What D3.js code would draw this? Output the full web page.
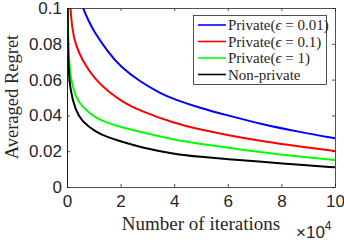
<!DOCTYPE html>
<html><head><meta charset="utf-8">
<script src="https://cdn.jsdelivr.net/npm/d3@7"></script>
<style>html,body{margin:0;padding:0;background:#fff;}svg{display:block;}</style>
</head><body>
<svg id="c" width="344" height="244"></svg>
<script>
// iterations (×10^4) and averaged regret values
const blueT   = [0, 0.0001, 0.40, 0.59, 0.8, 1.0, 1.5, 2.0, 2.73, 3.5, 4.0, 5.0, 6.0, 7.23, 8.73, 10];
const blueV   = [0, 1.0, 0.109, 0.100, 0.093, 0.087, 0.076, 0.067, 0.0588, 0.0522, 0.0490, 0.0440, 0.0400, 0.0352, 0.0306, 0.0272];
const redT    = [0, 0.0001, 0.05, 0.12, 0.2, 0.31, 0.56, 1.06, 1.56, 2.06, 2.73, 4.0, 5.0, 6.0, 7.23, 8.73, 10];
const redV    = [0, 1.0, 0.125, 0.100, 0.088, 0.080, 0.0709, 0.0598, 0.0532, 0.0477, 0.0425, 0.0356, 0.0320, 0.0290, 0.0257, 0.0225, 0.0201];
const greenT  = [0, 0.0001, 0.005, 0.02, 0.06, 0.125, 0.31, 0.56, 1.06, 1.56, 2.06, 2.73, 4.0, 5.0, 6.0, 7.23, 8.73, 10];
const greenV  = [0, 1.0, 0.2, 0.1, 0.074, 0.0616, 0.0504, 0.0449, 0.0384, 0.0356, 0.0333, 0.0309, 0.0263, 0.0240, 0.0220, 0.0194, 0.0169, 0.0151];
const blackT  = [0, 0.0001, 0.005, 0.03, 0.06, 0.125, 0.31, 0.56, 1.06, 1.56, 2.06, 2.73, 4.0, 5.0, 6.0, 7.23, 8.73, 10];
const blackV  = [0, 1.0, 0.13, 0.08, 0.065, 0.054, 0.043, 0.0365, 0.0309, 0.0275, 0.0253, 0.0222, 0.0184, 0.0168, 0.0156, 0.0141, 0.0123, 0.0110];

const seriesNames  = ["Private(\u03f5 = 0.01)", "Private(\u03f5 = 0.1)", "Private(\u03f5 = 1)", "Non-private"];
const seriesColors = ["#0000ff", "#ff0000", "#00ff00", "#000000"];
const xTicks = [0, 2, 4, 6, 8, 10];
const xTickLabels = ["0", "2", "4", "6", "8", "10"];
const yTicks = [0, 0.02, 0.04, 0.06, 0.08, 0.1];
const yTickLabels = ["0", "0.02", "0.04", "0.06", "0.08", "0.1"];

const series = [
  {name: seriesNames[0], color: seriesColors[0], pts: blueT.map((t,i)=>[t, blueV[i]])},
  {name: seriesNames[1], color: seriesColors[1], pts: redT.map((t,i)=>[t, redV[i]])},
  {name: seriesNames[2], color: seriesColors[2], pts: greenT.map((t,i)=>[t, greenV[i]])},
  {name: seriesNames[3], color: seriesColors[3], pts: blackT.map((t,i)=>[t, blackV[i]])}
];

const L = 67, R = 335, T = 8, B = 187;
const x = d3.scaleLinear().domain([0, 10]).range([L, R]);
const y = d3.scaleLinear().domain([0, 0.1]).range([B, T]);
const svg = d3.select("#c");
const axCol = "#262626";
const sans = "'Liberation Sans', Arial, Helvetica, sans-serif";
const serif = "'Liberation Serif', 'DejaVu Serif', serif";

svg.append("defs").append("clipPath").attr("id","clip")
  .append("rect").attr("x", L).attr("y", T).attr("width", R-L).attr("height", B-T);

// curves
const line = d3.line().x(d=>x(d[0])).y(d=>y(d[1])).curve(d3.curveBasis);
const g = svg.append("g").attr("clip-path","url(#clip)");
series.forEach(s => {
  g.append("path").attr("d", line(s.pts)).attr("fill","none")
    .attr("stroke", s.color).attr("stroke-width", 2);
});

// axes
function styleAx(sel){
  sel.selectAll("path,line").attr("stroke", axCol).attr("stroke-width", 0.8);
  sel.selectAll("text").attr("fill", axCol).style("font-family", sans).style("font-size","17px");
}
const xb = svg.append("g").attr("transform",`translate(0,${B})`)
  .call(d3.axisBottom(x).tickValues(xTicks).tickSize(-3).tickSizeOuter(0).tickPadding(8)
        .tickFormat((d,i)=>xTickLabels[i]));
styleAx(xb);
const xt = svg.append("g").attr("transform",`translate(0,${T})`)
  .call(d3.axisTop(x).tickValues(xTicks).tickSize(-3).tickSizeOuter(0).tickFormat(""));
styleAx(xt);
const yl = svg.append("g").attr("transform",`translate(${L},0)`)
  .call(d3.axisLeft(y).tickValues(yTicks).tickSize(-3).tickSizeOuter(0).tickPadding(5)
        .tickFormat((d,i)=>yTickLabels[i]));
styleAx(yl);
const yr = svg.append("g").attr("transform",`translate(${R},0)`)
  .call(d3.axisRight(y).tickValues(yTicks).tickSize(-3).tickSizeOuter(0).tickFormat(""));
styleAx(yr);

// axis labels
svg.append("text").attr("x", 201).attr("y", 230).attr("text-anchor","middle")
  .style("font-family", serif).style("font-size","19px").attr("fill", axCol)
  .text("Number of iterations");
svg.append("text").attr("transform","translate(18,97) rotate(-90)").attr("text-anchor","middle")
  .style("font-family", serif).style("font-size","18.5px").attr("fill", axCol)
  .text("Averaged Regret");
const mult = svg.append("text").attr("x", 296).attr("y", 238)
  .style("font-family", sans).style("font-size","17px").attr("fill", axCol);
mult.append("tspan").text("\u00d710");
mult.append("tspan").attr("dy", -8).style("font-size","12px").text("4");

// legend
const lg = svg.append("g");
lg.append("rect").attr("x", 193.5).attr("y", 15.5).attr("width", 133).attr("height", 69)
  .attr("fill","#fff").attr("stroke", axCol).attr("stroke-width", 0.8);
const rowY = [25, 41.5, 58, 74.5];
series.forEach((s, i) => {
  lg.append("line").attr("x1", 198).attr("x2", 226).attr("y1", rowY[i]).attr("y2", rowY[i])
    .attr("stroke", s.color).attr("stroke-width", 1.6);
  const t = lg.append("text").attr("x", 228).attr("y", rowY[i] + 5)
    .style("font-family", serif).style("font-size","15px").attr("fill", axCol);
  const m = s.name.match(/^(.*\()\u03f5(.*)$/);
  if (m) {
    t.append("tspan").text(m[1]);
    t.append("tspan").style("font-style","italic").text("\u03f5");
    t.append("tspan").text(m[2]);
  } else t.text(s.name);
});
</script>
</body></html>
